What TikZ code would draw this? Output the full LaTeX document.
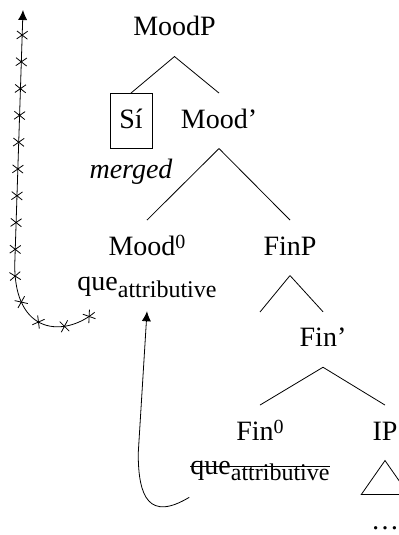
\documentclass[tikz,border=0pt]{standalone}
\usepackage{fontspec}
\setmainfont{Liberation Serif}
\usetikzlibrary{decorations.markings,arrows.meta}
\newcommand\hdsup[1]{\raisebox{3.5pt}{\fontsize{10}{10}\selectfont #1}}
\newcommand\hdsub[1]{\raisebox{-3.3pt}{\fontsize{12}{12}\selectfont #1}}
\newcommand\struck[1]{\setbox0\hbox{#1}\rlap{\rule[3.6pt]{\wd0}{0.5pt}}\box0}
\newcommand\catstrut{\rule[-5.4pt]{0pt}{18pt}}
\tikzset{catnode/.style={anchor=base, inner sep=4.67pt, font=\fontsize{14}{18}\selectfont,
        execute at begin node=\catstrut},
    moved/.style={-{Latex[length=5pt,width=4.6pt]}},
    crossed/.style={postaction={decorate},
        decoration={markings, mark=between positions 3.5pt and 1 step 13.4pt
        with {\draw[-] (-2pt,-2.7pt) -- (2pt,2.7pt) (-2pt,2.7pt) -- (2pt,-2.7pt);}}},
    }

\begin{document}
\begin{tikzpicture}[x=0.5pt,y=-0.5pt]
\useasboundingbox (0,0) rectangle (399,535);
% the tree
\node[catnode] (moodp) at (174.5,36) {MoodP};
\node[catnode,draw] (si) at (131,128) {Sí};
\node[catnode] (moodbar) at (219,128) {Mood'};
\node[catnode] (mood0) at (147,255) {Mood\hdsup{0}};
\node[catnode] (moodque) at (147,290.7) {que\hdsub{attributive}};
\node[catnode] (finp) at (290,255) {FinP};
\coordinate (gap) at (260,312);
\node[catnode] (finbar) at (323,346.7) {Fin'};
\node[catnode] (fin0) at (260,440) {Fin\hdsup{0}};
\node[catnode] (finque) at (260,474.3) {\struck{que\hdsub{attributive}}};
\node[catnode] (ip) at (385,440) {IP};
\node[catnode] (dots) at (385,529.5) {\ldots};
\node[catnode,font=\fontsize{14}{18}\itshape] (merged) at (131,178) {merged};
\draw (moodp.south) -- (si.north) (moodp.south) -- (moodbar.north);
\draw (moodbar.south) -- (mood0.north) (moodbar.south) -- (finp.north);
\draw (finp.south) -- (gap) (finp.south) -- (finbar.north);
\draw (finbar.south) -- (fin0.north) (finbar.south) -- (ip.north);
\draw (ip.south) -- (dots.north west) -- (dots.north east) -- cycle;
% movement of que, and the crossed-out path
\coordinate (top) at (23,10);
\draw[moved] ([shift={(8.5,2.5)}]finque.south west) .. controls +(-40,24) and +(0,44) .. ++(-51,-44) -- (moodque.south);
\draw[crossed,moved] ([shift={(27,1)}]moodque.south west) .. controls +(-30,25) and +(0,70) .. ++(-80,-47) -- (top);
\end{tikzpicture}
\end{document}
